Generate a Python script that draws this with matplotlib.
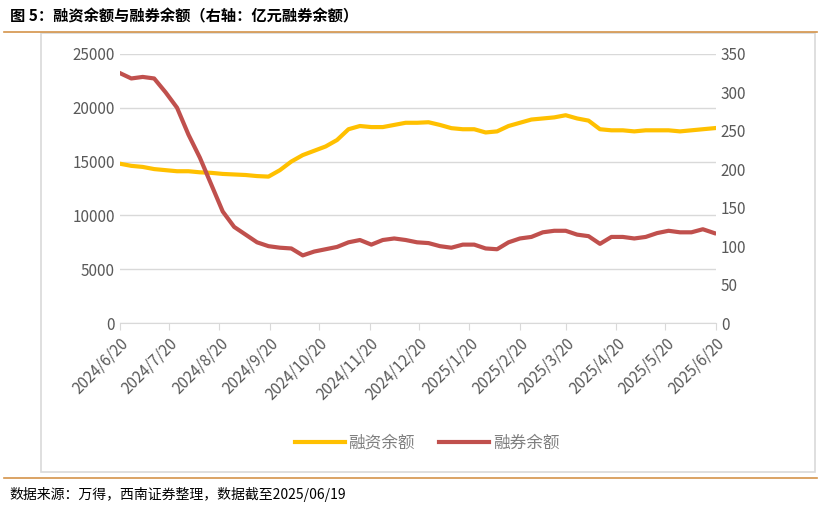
import numpy as np
import pandas as pd
import matplotlib.pyplot as plt
from matplotlib.patches import Rectangle

plt.rcParams['font.family'] = ['Noto Sans CJK SC', 'DejaVu Sans']

# weekly readings, 2024-06-20 .. 2025-06-19
dates = pd.date_range('2024-06-20', periods=53, freq='7D')
financing = [14800, 14600, 14500, 14300, 14200, 14100, 14100, 14000, 13950, 13850,
             13800, 13750, 13650, 13600, 14200, 15000, 15600, 16000, 16400, 17000,
             18000, 18300, 18200, 18200, 18400, 18600, 18600, 18650, 18400, 18100,
             18000, 18000, 17700, 17800, 18300, 18600, 18900, 19000, 19100, 19300,
             19000, 18800, 18000, 17900, 17900, 17800, 17900, 17900, 17900, 17800,
             17900, 18000, 18100]
lending = [325, 318, 320, 318, 300, 280, 245, 215, 180, 145,
           125, 115, 105, 100, 98, 97, 88, 93, 96, 99,
           105, 108, 102, 108, 110, 108, 105, 104, 100, 98,
           102, 102, 97, 96, 105, 110, 112, 118, 120, 120,
           115, 113, 103, 112, 112, 110, 112, 117, 120, 118,
           118, 122, 117]
tick_labels = ['2024/6/20', '2024/7/20', '2024/8/20', '2024/9/20', '2024/10/20',
               '2024/11/20', '2024/12/20', '2025/1/20', '2025/2/20', '2025/3/20',
               '2025/4/20', '2025/5/20', '2025/6/20']
tick_dates = pd.to_datetime(tick_labels, format='%Y/%m/%d')

fig = plt.figure(figsize=(8.21, 5.08), dpi=100)
fig.text(0.012, 0.968, '图 5：融资余额与融券余额（右轴：亿元融券余额）',
         fontsize=11, fontweight='bold', va='center')
fig.add_artist(plt.Line2D([0.005, 0.995], [0.937, 0.937], color='#D4944A', lw=1.2))
fig.add_artist(plt.Line2D([0.005, 0.995], [0.06, 0.06], color='#D4944A', lw=1.2))
fig.add_artist(Rectangle((0.05, 0.07), 0.943, 0.865, fill=False, ec='#D9D9D9', lw=1.2))
fig.text(0.012, 0.027, '数据来源：万得，西南证券整理，数据截至2025/06/19',
         fontsize=10, style='italic', va='center')

ax = fig.add_axes([0.146, 0.364, 0.726, 0.53])
ax2 = ax.twinx()
ax.plot(dates, financing, color='#FFC000', lw=3, label='融资余额')
ax2.plot(dates, lending, color='#C0504D', lw=3, label='融券余额')
ax.set_ylim(0, 25000)
ax.set_yticks(range(0, 25001, 5000))
ax2.set_ylim(0, 350)
ax2.set_yticks(range(0, 351, 50))
ax.set_xlim(tick_dates[0], tick_dates[-1])
ax.set_xticks(tick_dates)
ax.set_xticklabels(tick_labels, rotation=45, ha='right', rotation_mode='anchor')
ax.grid(axis='y', color='#D9D9D9', lw=1)
ax.set_axisbelow(True)
for a in (ax, ax2):
    for s in a.spines.values():
        s.set_visible(False)
    a.tick_params(colors='#595959', labelsize=11, length=0)
ax.spines['bottom'].set_visible(True)
ax.spines['bottom'].set_color('#D9D9D9')
ax.tick_params(axis='x', length=5, color='#D9D9D9', direction='out')
h1, l1 = ax.get_legend_handles_labels()
h2, l2 = ax2.get_legend_handles_labels()
fig.legend(h1 + h2, l1 + l2, loc='center', bbox_to_anchor=(0.52, 0.128), ncol=2,
           frameon=False, fontsize=12, labelcolor='#7F7F7F', handlelength=3, columnspacing=1.5,
           handletextpad=0.2)
fig.savefig('out.png', dpi=100)
